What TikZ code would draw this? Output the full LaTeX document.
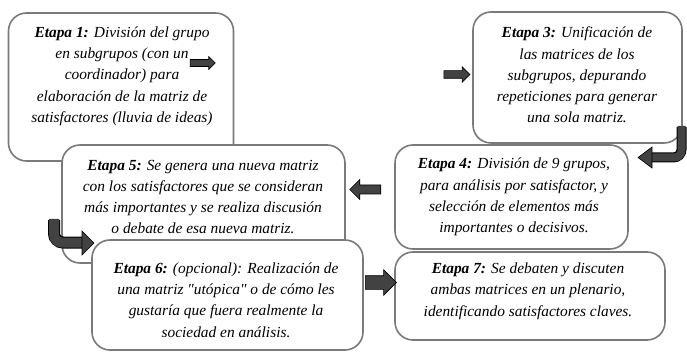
\documentclass[tikz,border=0pt]{standalone}
\usepackage{fontspec}
\setmainfont{Liberation Serif}
\newfontfamily\stagefont{Liberation Serif}
\usetikzlibrary{shapes.arrows}
\definecolor{boxgray}{HTML}{7A7A7A}
\definecolor{arrowgray}{HTML}{424242}
\tikzset{
  stagebox/.style={draw=boxgray, line width=1.6pt, rounded corners=18pt, fill=white,
    inner sep=0pt, minimum width=#1},
  stagetext/.style={align=center, inner sep=0pt,
    font=\stagefont\fontsize{15.4}{21.3}\selectfont\itshape},
  blockarrow/.style={single arrow, draw=black, fill=arrowgray, line width=0.6pt,
    inner sep=0pt, single arrow tip angle=90},
  bentouter/.style={draw=black, line width=#1},
  bentinner/.style={draw=arrowgray, line width=#1},
  benthead/.style={draw=black, fill=arrowgray, line width=0.6pt}
}
\begin{document}
\begin{tikzpicture}[x=1pt,y=-1pt]
\useasboundingbox (0,0) rectangle (687,355);
\fill[white] (0,0) rectangle (687,355);

% Etapa 1
\node[stagebox=225pt, minimum height=148pt] (b1) at (121,87) {};
\node[stagetext] (t1) at (122,76) {\textbf{Etapa 1:} División del grupo\\ en subgrupos (con un\\ coordinador) para\\ elaboración de la matriz de\\ satisfactores (lluvia de ideas)};

% Etapa 5
\node[stagebox=283pt, minimum height=118pt] (b5) at (203.5,204) {};
\node[stagetext] (t5) at (203,197) {\textbf{Etapa 5:} Se genera una nueva matriz\\ con los satisfactores que se consideran\\ más importantes y se realiza discusión\\ o debate de esa nueva matriz.};

% Etapa 6
\node[stagebox=271pt, minimum height=110pt] (b6) at (227.5,295) {};
\node[stagetext] (t6) at (226,300) {\textbf{Etapa 6:} (opcional): Realización de\\ una matriz "utópica" o de cómo les\\ gustaría que fuera realmente la\\ sociedad en análisis.};

% Etapa 3
\node[stagebox=209pt, minimum height=131pt] (b3) at (577.5,77.5) {};
\node[stagetext] (t3) at (577,75) {\textbf{Etapa 3:} Unificación de\\ las matrices de los\\ subgrupos, depurando\\ repeticiones para generar\\ una sola matriz.};

% Etapa 4
\node[stagebox=233pt, minimum height=104pt] (b4) at (511.5,197) {};
\node[stagetext] (t4) at (514,197) {\textbf{Etapa 4:} División de 9 grupos,\\ para análisis por satisfactor, y\\ selección de elementos más\\ importantes o decisivos.};

% Etapa 7
\node[stagebox=270pt, minimum height=88pt] (b7) at (530,296) {};
\node[stagetext] (t7) at (528,291) {\textbf{Etapa 7:} Se debaten y discuten\\ ambas matrices en un plenario,\\ identificando satisfactores claves.};

% straight block arrows
\node[blockarrow, minimum height=25pt, inner ysep=3.2pt, single arrow head extend=3pt] (a12) at (201,63) {};
\node[blockarrow, minimum height=26pt, inner ysep=3.5pt, single arrow head extend=4pt] (a23) at (455,74.5) {};
\node[blockarrow, minimum height=31pt, inner ysep=4.2pt, single arrow head extend=5.5pt, shape border rotate=180] (a45) at (367.5,189.5) {};
\node[blockarrow, minimum height=31pt, inner ysep=6.5pt, single arrow head extend=6pt] (a67) at (377.5,282.5) {};

% bent arrow 3 -> 4
\coordinate (s34) at (681.5,127);
\coordinate (k34) at (681.5,157.5);
\coordinate (e34) at (650,157.5);
\draw[bentouter=10pt, rounded corners=8pt] (s34) -- (k34) -- (e34);
\draw[bentinner=8pt, rounded corners=7pt] ([yshift=1pt]s34) -- (k34) -- ([xshift=1pt]e34);
\draw[benthead] (652,147) -- (638,157.5) -- (652,168) -- cycle;

% bent arrow 5 -> 6
\coordinate (s56) at (54,220);
\coordinate (k56) at (54,242.5);
\coordinate (e56) at (84,242.5);
\draw[bentouter=12pt, rounded corners=9pt] (s56) -- (k56) -- (e56);
\draw[bentinner=10pt, rounded corners=8pt] ([yshift=1pt]s56) -- (k56) -- ([xshift=-1pt]e56);
\draw[benthead] (82,231) -- (94,243) -- (82,255) -- cycle;
\end{tikzpicture}
\end{document}
